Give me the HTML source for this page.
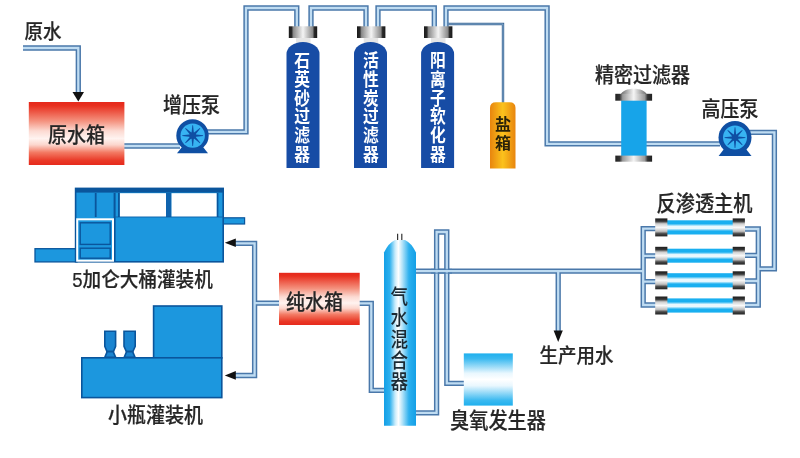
<!DOCTYPE html>
<html lang="zh-CN">
<head>
<meta charset="utf-8">
<title>纯水设备工艺流程图</title>
<style>
html,body{margin:0;padding:0;background:#fff;}
body{width:800px;height:458px;overflow:hidden;position:relative;}
svg{position:absolute;left:0;top:0;display:block;filter:blur(0.45px);}
text{font-family:"Liberation Sans","Noto Sans CJK SC",sans-serif;}
.lb{fill:#262626;font-size:18.5px;font-weight:500;stroke:#262626;stroke-width:0.2px;}
.wt{fill:#ffffff;font-size:15.8px;font-weight:700;}
.po{fill:none;stroke:#4a78aa;stroke-width:5.3;stroke-linejoin:miter;}
.pi{fill:none;stroke:#bfdcf2;stroke-width:2.3;stroke-linejoin:miter;}
.to{fill:none;stroke:#3f6a98;stroke-width:2.4;}
.ti{fill:none;stroke:#a9c9e6;stroke-width:0.6;}
</style>
</head>
<body>
<svg width="800" height="458" viewBox="0 0 800 458">
<defs>
  <linearGradient id="gRed" x1="0" y1="0" x2="0" y2="1">
    <stop offset="0" stop-color="#e5281b"/>
    <stop offset="0.06" stop-color="#e8301f"/>
    <stop offset="0.3" stop-color="#f4917e"/>
    <stop offset="0.46" stop-color="#fcdad2"/>
    <stop offset="0.58" stop-color="#fff3f0"/>
    <stop offset="0.68" stop-color="#fcd6cd"/>
    <stop offset="0.8" stop-color="#f37a64"/>
    <stop offset="0.93" stop-color="#e93826"/>
    <stop offset="1" stop-color="#e62a1c"/>
  </linearGradient>
  <linearGradient id="gCap" x1="0" y1="0" x2="1" y2="0">
    <stop offset="0" stop-color="#1a1a1a"/>
    <stop offset="0.1" stop-color="#2a2a2a"/>
    <stop offset="0.16" stop-color="#8a8a8a"/>
    <stop offset="0.5" stop-color="#f4f4f4"/>
    <stop offset="0.84" stop-color="#8a8a8a"/>
    <stop offset="0.9" stop-color="#2a2a2a"/>
    <stop offset="1" stop-color="#1a1a1a"/>
  </linearGradient>
  <linearGradient id="gSalt" x1="0" y1="0" x2="1" y2="0">
    <stop offset="0" stop-color="#e8850e"/>
    <stop offset="0.5" stop-color="#fbc21c"/>
    <stop offset="1" stop-color="#e8850e"/>
  </linearGradient>
  <linearGradient id="gMix" x1="0" y1="0" x2="1" y2="0">
    <stop offset="0" stop-color="#149fe6"/>
    <stop offset="0.18" stop-color="#2cb0ee"/>
    <stop offset="0.35" stop-color="#c9ecfb"/>
    <stop offset="0.45" stop-color="#ffffff"/>
    <stop offset="0.57" stop-color="#b5e4f9"/>
    <stop offset="0.78" stop-color="#2cb0ee"/>
    <stop offset="1" stop-color="#149fe6"/>
  </linearGradient>
  <linearGradient id="gOz" x1="0" y1="0" x2="0" y2="1">
    <stop offset="0" stop-color="#1fb0ee"/>
    <stop offset="0.1" stop-color="#3ab9f0"/>
    <stop offset="0.38" stop-color="#e9f7fe"/>
    <stop offset="0.5" stop-color="#ffffff"/>
    <stop offset="0.62" stop-color="#e9f7fe"/>
    <stop offset="0.9" stop-color="#3ab9f0"/>
    <stop offset="1" stop-color="#1fb0ee"/>
  </linearGradient>
  <linearGradient id="gTube" x1="0" y1="0" x2="0" y2="1">
    <stop offset="0" stop-color="#19aff0"/>
    <stop offset="0.24" stop-color="#19aff0"/>
    <stop offset="0.42" stop-color="#e9f8fe"/>
    <stop offset="0.58" stop-color="#e9f8fe"/>
    <stop offset="0.76" stop-color="#19aff0"/>
    <stop offset="1" stop-color="#19aff0"/>
  </linearGradient>
  <linearGradient id="gEnd" x1="0" y1="0" x2="0" y2="1">
    <stop offset="0" stop-color="#1c1c1c"/>
    <stop offset="0.16" stop-color="#383838"/>
    <stop offset="0.3" stop-color="#cfcfcf"/>
    <stop offset="0.5" stop-color="#fafafa"/>
    <stop offset="0.72" stop-color="#c0c0c0"/>
    <stop offset="0.85" stop-color="#484848"/>
    <stop offset="1" stop-color="#222"/>
  </linearGradient>
  <linearGradient id="gDome" x1="0" y1="0" x2="1" y2="0"><stop offset="0" stop-color="#666"/><stop offset="0.5" stop-color="#f6f6f6"/><stop offset="1" stop-color="#666"/></linearGradient>
  <linearGradient id="gFlange" x1="0" y1="0" x2="1" y2="0">
    <stop offset="0" stop-color="#222"/>
    <stop offset="0.12" stop-color="#333"/>
    <stop offset="0.2" stop-color="#999"/>
    <stop offset="0.5" stop-color="#f4f4f4"/>
    <stop offset="0.8" stop-color="#999"/>
    <stop offset="0.88" stop-color="#333"/>
    <stop offset="1" stop-color="#222"/>
  </linearGradient>
</defs>

<rect x="0" y="0" width="800" height="458" fill="#ffffff"/>

<!-- ============ PIPES ============ -->
<g id="pipes">
  <path class="po" d="M23,48 H78.3 V95"/>
  <path class="po" d="M124,146 H180"/>
  <path class="po" d="M205,131.8 H246 V8 H296.8 V27"/>
  <path class="po" d="M311,27 V8 H366 V27"/>
  <path class="po" d="M378,27 V8 H434.3 V27"/>
  <path class="po" d="M446,27 V8 H547.1 V143.9 H720"/>
  <path class="po" d="M748,132.4 H774.4 V268.9 H758"/>
  <path class="po" d="M745,229 H758.3 V305 H745 M745,255.4 H758.3 M745,281 H758.3"/>
  <path class="po" d="M656,228.6 H643.2 V305 H656 M656,255.9 H643.2 M656,281.6 H643.2"/>
  <path class="po" d="M414,271.2 H643.2 M558.2,271.2 V332"/>
  <path class="po" d="M414,412.9 H436.6 V232 H446.8 V383.3 H465"/>
  <path class="po" d="M359,303.3 H371.3 V390.4 H386"/>
  <path class="po" d="M281,303.2 H254.6 M234,243.4 H254.6 V375.5 H234"/>
  <path class="pi" d="M23,48 H78.3 V95"/>
  <path class="pi" d="M124,146 H180"/>
  <path class="pi" d="M205,131.8 H246 V8 H296.8 V27"/>
  <path class="pi" d="M311,27 V8 H366 V27"/>
  <path class="pi" d="M378,27 V8 H434.3 V27"/>
  <path class="pi" d="M446,27 V8 H547.1 V143.9 H720"/>
  <path class="pi" d="M748,132.4 H774.4 V268.9 H758"/>
  <path class="pi" d="M745,229 H758.3 V305 H745 M745,255.4 H758.3 M745,281 H758.3"/>
  <path class="pi" d="M656,228.6 H643.2 V305 H656 M656,255.9 H643.2 M656,281.6 H643.2"/>
  <path class="pi" d="M414,271.2 H643.2 M558.2,271.2 V332"/>
  <path class="pi" d="M414,412.9 H436.6 V232 H446.8 V383.3 H465"/>
  <path class="pi" d="M359,303.3 H371.3 V390.4 H386"/>
  <path class="pi" d="M281,303.2 H254.6 M234,243.4 H254.6 V375.5 H234"/>
  <path d="M431,269.3 H452 M431,273.1 H452" stroke="#4b7db0" stroke-width="1.2" fill="none" opacity="0.8"/>
  <path class="to" d="M448,24 H503 V103"/>
  <path class="ti" d="M448,24 H503 V103"/>
</g>

<!-- arrows -->
<polygon points="72.5,92 84,92 78.3,101.5" fill="#111"/>
<polygon points="553.6,330.5 562.8,330.5 558.2,342" fill="#111"/>
<polygon points="235.8,238.4 235.8,247 224.8,242.8" fill="#111"/>
<polygon points="235.8,371 235.8,379.8 224.8,375.4" fill="#111"/>

<!-- ============ RAW WATER TANK ============ -->
<rect x="28.8" y="102" width="95.6" height="63" fill="url(#gRed)"/>
<text class="lb" transform="translate(76.5,142.4) scale(1,1.1)" text-anchor="middle" style="font-size:19px">原水箱</text>
<text class="lb" transform="translate(24.5,38.9) scale(1,1.1)" style="font-size:18.5px">原水</text>

<!-- ============ BOOSTER PUMP ============ -->
<g id="pump1">
  <polygon points="182,147 203,147 208,153.2 177,153.2" fill="#0f4fa3"/>
  <circle cx="192.5" cy="135.4" r="16.2" fill="#0f4fa3"/>
  <circle cx="192.7" cy="135.6" r="12.2" fill="#37b3f2"/>
  <path fill="#0f4fa3" d="M194.20,136.90 L194.20,134.30 L203.10,135.25 L203.10,135.95 Z M192.84,137.58 L194.68,135.74 L200.30,142.71 L199.81,143.20 Z M191.40,137.10 L194.00,137.10 L193.05,146.00 L192.35,146.00 Z M190.72,135.74 L192.56,137.58 L185.59,143.20 L185.10,142.71 Z M191.20,134.30 L191.20,136.90 L182.30,135.95 L182.30,135.25 Z M192.56,133.62 L190.72,135.46 L185.10,128.49 L185.59,128.00 Z M194.00,134.10 L191.40,134.10 L192.35,125.20 L193.05,125.20 Z M194.68,135.46 L192.84,133.62 L199.81,128.00 L200.30,128.49 Z"/>
  <circle cx="192.7" cy="135.6" r="3.2" fill="#0f4fa3"/>
</g>
<text class="lb" transform="translate(191.5,111.7) scale(1,1.1)" text-anchor="middle" style="font-size:19px">增压泵</text>

<!-- ============ FILTERS ============ -->
<g id="f1">
  <rect x="296" y="36" width="14.5" height="9" fill="#e6e6e6"/>
  <path d="M286.5,168 V54 A16.5,12 0 0 1 319.5,54 V168 Z" fill="#174ca5"/>
  <rect x="288.8" y="26.3" width="28.4" height="11.7" fill="url(#gCap)"/>
  <text class="wt" text-anchor="middle" transform="translate(302.2,66.90) scale(1,1.12)">石</text><text class="wt" text-anchor="middle" transform="translate(302.2,85.75) scale(1,1.12)">英</text><text class="wt" text-anchor="middle" transform="translate(302.2,104.60) scale(1,1.12)">砂</text><text class="wt" text-anchor="middle" transform="translate(302.2,123.45) scale(1,1.12)">过</text><text class="wt" text-anchor="middle" transform="translate(302.2,142.30) scale(1,1.12)">滤</text><text class="wt" text-anchor="middle" transform="translate(302.2,161.15) scale(1,1.12)">器</text>
</g>
<g id="f2">
  <rect x="363.7" y="36" width="14.5" height="9" fill="#e6e6e6"/>
  <path d="M354,168 V54 A16.5,12 0 0 1 387,54 V168 Z" fill="#174ca5"/>
  <rect x="357" y="26.3" width="28.4" height="11.7" fill="url(#gCap)"/>
  <text class="wt" text-anchor="middle" transform="translate(371,66.90) scale(1,1.12)">活</text><text class="wt" text-anchor="middle" transform="translate(371,85.75) scale(1,1.12)">性</text><text class="wt" text-anchor="middle" transform="translate(371,104.60) scale(1,1.12)">炭</text><text class="wt" text-anchor="middle" transform="translate(371,123.45) scale(1,1.12)">过</text><text class="wt" text-anchor="middle" transform="translate(371,142.30) scale(1,1.12)">滤</text><text class="wt" text-anchor="middle" transform="translate(371,161.15) scale(1,1.12)">器</text>
</g>
<g id="f3">
  <rect x="431" y="36" width="14.5" height="9" fill="#e6e6e6"/>
  <path d="M421.1,168 V54 A16.5,12 0 0 1 454.1,54 V168 Z" fill="#174ca5"/>
  <rect x="424" y="26.3" width="28.4" height="11.7" fill="url(#gCap)"/>
  <text class="wt" text-anchor="middle" transform="translate(438,66.90) scale(1,1.12)">阳</text><text class="wt" text-anchor="middle" transform="translate(438,85.75) scale(1,1.12)">离</text><text class="wt" text-anchor="middle" transform="translate(438,104.60) scale(1,1.12)">子</text><text class="wt" text-anchor="middle" transform="translate(438,123.45) scale(1,1.12)">软</text><text class="wt" text-anchor="middle" transform="translate(438,142.30) scale(1,1.12)">化</text><text class="wt" text-anchor="middle" transform="translate(438,161.15) scale(1,1.12)">器</text>
</g>

<!-- ============ SALT TANK ============ -->
<path d="M490,168.6 V108 Q490,102.2 496,102.2 H509.5 Q515.5,102.2 515.5,108 V168.6 Z" fill="url(#gSalt)"/>
<text text-anchor="middle" style="font-size:16px;font-weight:700;fill:#2a2208"><tspan x="502.9" y="129.8">盐</tspan><tspan x="502.9" y="148.8">箱</tspan></text>

<!-- ============ FINE FILTER ============ -->
<g id="fine">
  <rect x="621.2" y="99" width="25.4" height="58" fill="#17a4e9"/>
  <path d="M620.5,95 C623,86.8 644.5,86.8 647,95 Z" fill="url(#gDome)"/><rect x="615.3" y="93.8" width="36.8" height="6.9" fill="url(#gFlange)"/>
  <rect x="615.3" y="155.6" width="36.8" height="6.1" fill="url(#gFlange)"/>
</g>
<text class="lb" transform="translate(642.5,81.9) scale(1,1.1)" text-anchor="middle" style="font-size:19px">精密过滤器</text>

<!-- ============ HP PUMP ============ -->
<g id="pump2">
  <polygon points="724,149 746,149 751.5,156 718.6,156" fill="#0f4fa3"/>
  <circle cx="735" cy="137.6" r="16.5" fill="#0f4fa3"/>
  <circle cx="735" cy="137.6" r="12" fill="#37b3f2"/>
  <path fill="#0f4fa3" d="M736.50,138.90 L736.50,136.30 L745.40,137.25 L745.40,137.95 Z M735.14,139.58 L736.98,137.74 L742.60,144.71 L742.11,145.20 Z M733.70,139.10 L736.30,139.10 L735.35,148.00 L734.65,148.00 Z M733.02,137.74 L734.86,139.58 L727.89,145.20 L727.40,144.71 Z M733.50,136.30 L733.50,138.90 L724.60,137.95 L724.60,137.25 Z M734.86,135.62 L733.02,137.46 L727.40,130.49 L727.89,130.00 Z M736.30,136.10 L733.70,136.10 L734.65,127.20 L735.35,127.20 Z M736.98,137.46 L735.14,135.62 L742.11,130.00 L742.60,130.49 Z"/>
  <circle cx="735" cy="137.6" r="3.2" fill="#0f4fa3"/>
</g>
<text class="lb" transform="translate(730,115.7) scale(1,1.1)" text-anchor="middle" style="font-size:19px">高压泵</text>

<!-- ============ RO ============ -->
<text class="lb" transform="translate(704.5,210.5) scale(1,1.1)" text-anchor="middle" style="font-size:19.2px">反渗透主机</text>
<g id="ro">
  <rect x="660" y="220.3" width="80" height="14.2" fill="url(#gTube)"/>
  <rect x="655.2" y="218.4" width="12.2" height="18.0" fill="url(#gEnd)"/>
  <rect x="732.7" y="218.4" width="12.2" height="18.0" fill="url(#gEnd)"/>
  <rect x="660" y="248.7" width="80" height="14.0" fill="url(#gTube)"/>
  <rect x="655.2" y="246.8" width="12.2" height="17.8" fill="url(#gEnd)"/>
  <rect x="732.7" y="246.8" width="12.2" height="17.8" fill="url(#gEnd)"/>
  <rect x="660" y="273.2" width="80" height="14.2" fill="url(#gTube)"/>
  <rect x="655.2" y="271.3" width="12.2" height="18.0" fill="url(#gEnd)"/>
  <rect x="732.7" y="271.3" width="12.2" height="18.0" fill="url(#gEnd)"/>
  <rect x="660" y="298.4" width="80" height="14.2" fill="url(#gTube)"/>
  <rect x="655.2" y="296.5" width="12.2" height="18.0" fill="url(#gEnd)"/>
  <rect x="732.7" y="296.5" width="12.2" height="18.0" fill="url(#gEnd)"/>
</g>

<!-- ============ 5 GALLON FILLING MACHINE ============ -->
<g id="m1">
  <rect x="35" y="248.7" width="42" height="13.2" fill="#1c97de" stroke="#0a559c" stroke-width="1.3"/>
  <rect x="222" y="217.8" width="22.6" height="6.2" fill="#1c97de" stroke="#0a559c" stroke-width="1.2"/>
  <rect x="75.6" y="188.4" width="147.6" height="73.4" fill="#1c97de" stroke="#0a559c" stroke-width="1.6"/>
  <rect x="75.6" y="188" width="147.6" height="4.6" fill="#0a559c"/>
  <rect x="119.6" y="193.2" width="46.4" height="23.6" fill="#ffffff"/>
  <rect x="171.3" y="193.2" width="45.5" height="23.6" fill="#ffffff"/>
  <rect x="94.8" y="193" width="1.8" height="24" fill="#0a559c"/>
  <rect x="113.6" y="193" width="2" height="69" fill="#0a559c"/>
  <rect x="118" y="193" width="1.8" height="24" fill="#0a559c"/>
  <rect x="166" y="193" width="5.3" height="24" fill="#0f63ad"/>
  <rect x="216.8" y="193" width="1.6" height="24" fill="#0a559c"/>
  <rect x="115.6" y="216.4" width="107" height="1.2" fill="#0a559c" opacity="0.6"/>
  <rect x="77.2" y="219.3" width="35.8" height="41.4" fill="#1c97de" stroke="#ffffff" stroke-width="2"/>
  <rect x="80.2" y="222.8" width="30" height="21.6" fill="#1c97de" stroke="#0a559c" stroke-width="1.4"/>
  <rect x="80.2" y="248.2" width="30" height="10" fill="#1c97de" stroke="#0a559c" stroke-width="1.4"/>
</g>
<text class="lb" transform="translate(142.5,287.4) scale(1,1.1)" text-anchor="middle" style="font-size:18.6px">5加仑大桶灌装机</text>

<!-- ============ SMALL BOTTLE FILLING MACHINE ============ -->
<g id="m2" fill="#1c97de" stroke="#0a559c" stroke-width="1.6">
  <rect x="153.6" y="306" width="68.2" height="52"/>
  <rect x="81.8" y="357.8" width="140" height="39.8"/>
  <path d="M104.8,331.2 H115.6 V346.4 L113.39999999999999,351.6 H106.99999999999999 L104.8,346.4 Z" fill="#1a84d0"/>
  <path d="M104.79999999999998,357.2 L107.19999999999999,351.6 H113.19999999999999 L115.6,357.2 Z" fill="#1a84d0"/>
  <path d="M124,331.2 H135.2 V346.4 L132.79999999999998,351.6 H126.39999999999999 L124,346.4 Z" fill="#1a84d0"/>
  <path d="M124.19999999999999,357.2 L126.6,351.6 H132.6 L135.0,357.2 Z" fill="#1a84d0"/>
</g>
<text class="lb" transform="translate(155.5,422.4) scale(1,1.1)" text-anchor="middle" style="font-size:19px">小瓶灌装机</text>

<!-- ============ PURE WATER TANK ============ -->
<rect x="279" y="272.8" width="80.7" height="52.2" fill="url(#gRed)"/>
<text class="lb" transform="translate(314.5,309.4) scale(1,1.1)" text-anchor="middle" style="font-size:19px">纯水箱</text>

<!-- ============ MIXER ============ -->
<g id="mixer">
  <path d="M397.6,233.7 V240.5 M401.8,233.7 V240.5" stroke="#333" stroke-width="1.2"/>
  <path d="M384,425.7 V252.5 Q388.5,243 395,240 H405 Q411.5,243 416,252.5 V425.7 Z" fill="url(#gMix)"/>
  <text text-anchor="middle" transform="translate(399.3,303.9) scale(1,1.18)" style="font-size:17.6px;font-weight:500;fill:#1c2a33">气</text><text text-anchor="middle" transform="translate(399.3,325.2) scale(1,1.18)" style="font-size:17.6px;font-weight:500;fill:#1c2a33">水</text><text text-anchor="middle" transform="translate(399.3,346.5) scale(1,1.18)" style="font-size:17.6px;font-weight:500;fill:#1c2a33">混</text><text text-anchor="middle" transform="translate(399.3,367.8) scale(1,1.18)" style="font-size:17.6px;font-weight:500;fill:#1c2a33">合</text><text text-anchor="middle" transform="translate(399.3,389.1) scale(1,1.18)" style="font-size:17.6px;font-weight:500;fill:#1c2a33">器</text>
</g>

<!-- ============ OZONE GENERATOR ============ -->
<rect x="463.8" y="353.4" width="49" height="52.2" fill="url(#gOz)"/>
<text class="lb" transform="translate(498,428.4) scale(1,1.1)" text-anchor="middle" style="font-size:19.2px">臭氧发生器</text>

<!-- production water -->
<text class="lb" transform="translate(576.5,362.9) scale(1,1.1)" text-anchor="middle" style="font-size:18.5px">生产用水</text>

</svg>
</body>
</html>
